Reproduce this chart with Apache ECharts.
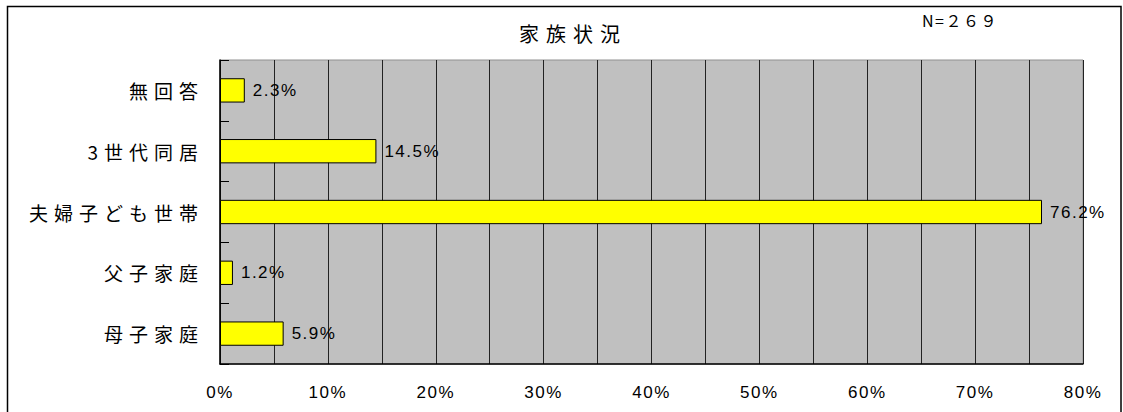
<!DOCTYPE html>
<html>
<head>
<meta charset="utf-8">
<script src="https://cdn.jsdelivr.net/npm/echarts@6/dist/echarts.min.js"></script>
<style>
html,body{margin:0;padding:0;background:#fff;}
#chart{width:1123px;height:412px;}
</style>
</head>
<body>
<div id="chart"></div>
<script>
const titleText = '家族状況';
const noteText = 'N=２６９';
const categories = ['無回答', '3世代同居', '夫婦子ども世帯', '父子家庭', '母子家庭'];
const values = [2.3, 14.5, 76.2, 1.2, 5.9];
const xMin = 0, xMax = 80, xStep = 5, xLabelStep = 10;

const chart = echarts.init(document.getElementById('chart'), null, {renderer: 'svg'});
chart.setOption({
  backgroundColor: '#ffffff',
  animation: false,
  title: {
    text: titleText,
    left: 568, top: 18, textAlign: 'center',
    textStyle: {fontFamily: 'Noto Sans CJK JP', fontSize: 20, fontWeight: 'normal', color: '#000'}
  },
  graphic: [
    {type: 'rect', shape: {x: 7.5, y: 6.5, width: 1113.5, height: 420}, style: {fill: 'none', stroke: '#000', lineWidth: 1.5}, z: 100},
    {type: 'text', left: 922, top: 12, style: {text: noteText, font: '16px "Noto Sans CJK JP"', fill: '#000'}}
  ],
  grid: {left: 220, right: 40, top: 60, bottom: 48, containLabel: false,
    show: true, backgroundColor: '#c0c0c0', borderColor: '#909090', borderWidth: 1},
  xAxis: {
    type: 'value', min: xMin, max: xMax, interval: xStep,
    axisLine: {show: true, onZero: false, lineStyle: {color: '#000', width: 1.5}},
    axisTick: {show: false},
    splitLine: {show: true, lineStyle: {color: '#222', width: 1}},
    axisLabel: {
      margin: 20, color: '#000', fontSize: 17, fontFamily: 'Liberation Sans',
      formatter: v => (v % xLabelStep === 0 ? v + '%' : '')
    }
  },
  yAxis: {
    type: 'category', data: categories, inverse: true,
    axisLine: {show: true, lineStyle: {color: '#000', width: 1.5}},
    axisTick: {show: true, inside: true, length: 9, lineStyle: {color: '#000'}},
    axisLabel: {margin: 16, color: '#000', fontSize: 19, fontFamily: 'Noto Sans CJK JP'},
    splitLine: {show: false}
  },
  series: [{
    type: 'bar',
    data: values,
    barWidth: '40%',
    itemStyle: {color: '#ffff00', borderColor: '#000', borderWidth: 1},
    label: {
      show: true, position: 'right', distance: 8,
      formatter: p => p.value.toFixed(1) + '%',
      color: '#000', fontSize: 17, fontFamily: 'Liberation Sans'
    }
  }]
});

// widen character spacing like the original rendering
function spaceText() {
  document.querySelectorAll('#chart svg text').forEach(t => {
    const s = t.textContent || '';
    if (s === titleText) t.style.letterSpacing = '7px';
    else if (/[\u3040-\u30ff\u4e00-\u9fff]/.test(s)) t.style.letterSpacing = '6px';
    else t.style.letterSpacing = '1.5px';
  });
}
spaceText();
chart.on('finished', spaceText);
</script>
</body>
</html>
